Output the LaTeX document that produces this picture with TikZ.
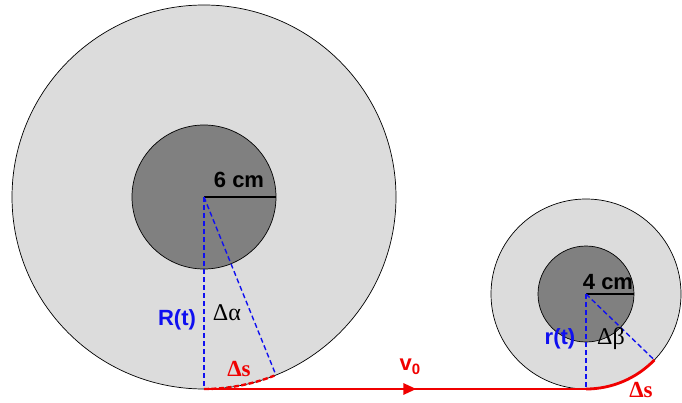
\documentclass[tikz,border=0pt]{standalone}
\usepackage{fontspec}
\setmainfont{Liberation Serif}
\setsansfont{Liberation Sans}
\usetikzlibrary{arrows.meta,decorations.markings}
\definecolor{lightdisk}{HTML}{DCDCDC}
\definecolor{darkdisk}{HTML}{808080}
\definecolor{myblue}{HTML}{1010F0}
\definecolor{myred}{HTML}{F00000}
\begin{document}
\begin{tikzpicture}[x=1pt,y=1pt,
  disk/.style={circle,draw=black,line width=0.7pt,inner sep=0pt,outer sep=0pt},
  bluedash/.style={draw=myblue,line width=1.4pt,dash pattern=on 5pt off 3pt},
  radline/.style={draw=black,line width=1.6pt},
  lab/.style={font=\fontsize{22}{24}\selectfont\sffamily\bfseries,inner sep=0pt},
  glab/.style={font=\fontsize{24}{26}\selectfont,inner sep=0pt},
  slab/.style={font=\fontsize{23}{25}\selectfont\bfseries,inner sep=0pt,text=myred},
  redpath/.style={draw=myred,line width=2.8pt}
]
\useasboundingbox (0,0) rectangle (682,402);
% big wheel
\node[disk,fill=lightdisk,minimum size=384pt] (big) at (204,205) {};
\node[disk,fill=darkdisk,minimum size=144pt] (bigin) at (204,205) {};
% small wheel
\node[disk,fill=lightdisk,minimum size=190pt] (small) at (586,108) {};
\node[disk,fill=darkdisk,minimum size=96pt] (smallin) at (586,108) {};
% radius markers
\draw[radline] (bigin.center) -- (bigin.east);
\draw[radline] (smallin.center) -- (smallin.east);
% blue dashed radii
\draw[bluedash] (big.center) -- (big.south);
\draw[bluedash] (big.center) -- (big.-68.5);
\draw[bluedash] (small.center) -- (small.south);
\draw[bluedash] (small.center) -- (small.-44);
% red arcs
\draw[draw=myred,line width=2.4pt,dash pattern=on 5pt off 2.5pt] (big.south) arc[start angle=-90,end angle=-68.5,radius=192pt];
\draw[redpath] (small.south) arc[start angle=-90,end angle=-44,radius=95pt];
% red line with mid arrow
\draw[redpath,postaction={decorate},decoration={markings,mark=at position 0.556 with {\arrow[myred]{Triangle[length=13pt,width=11pt]}}}] (big.south) -- (small.south);
% labels
\node[lab] (l6) at (239,222) {6 cm};
\node[lab] (l4) at (608,120) {4 cm};
\node[lab,text=myblue] (lR) at (177,82) {R(t)};
\node[lab,text=myblue] (lr) at (560,63) {r(t)};
\node[glab] (la) at (227,89) {Δα};
\node[glab] (lb) at (611,63) {Δβ};
\node[slab] (ls1) at (239,33) {Δs};
\node[slab] (ls2) at (641,12) {Δs};
\node[lab,text=myred] (lv) at (410,35) {v\raisebox{-4pt}{\fontsize{15}{15}\selectfont 0}};
\end{tikzpicture}
\end{document}
